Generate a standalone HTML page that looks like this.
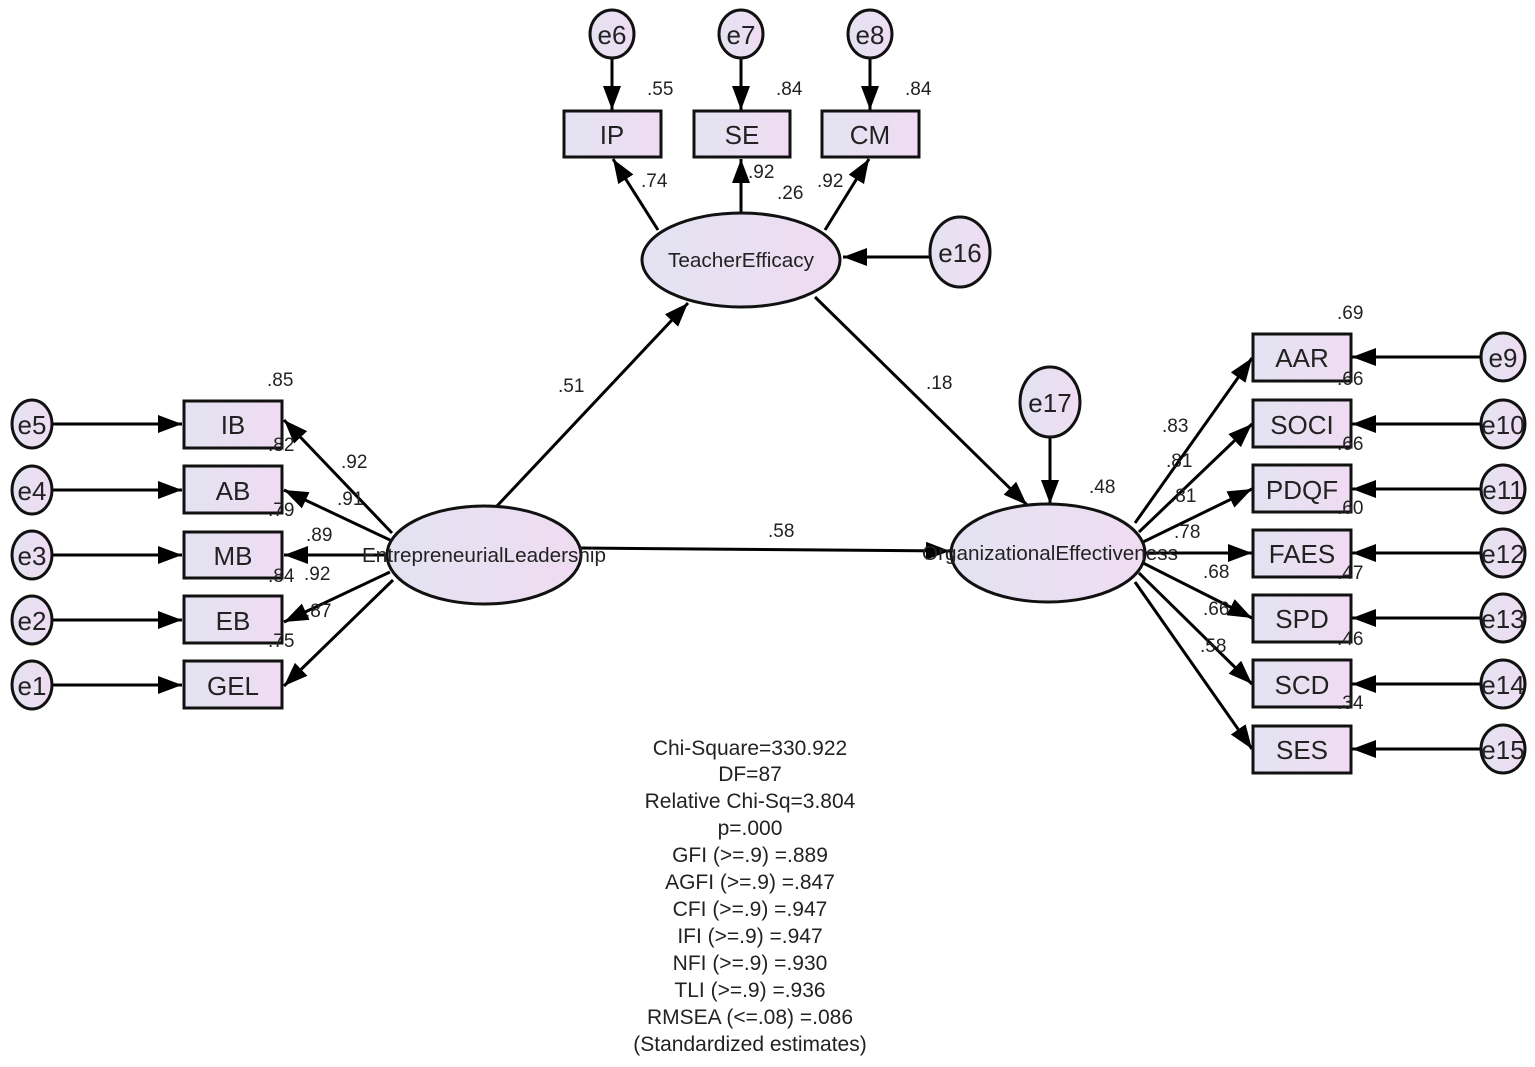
<!DOCTYPE html>
<html><head><meta charset="utf-8"><style>
html,body{margin:0;padding:0;background:#fff;}
svg{display:block;}
text{font-family:"Liberation Sans",Arial,sans-serif;fill:#222;}
.lbl{font-size:26px;text-anchor:middle;}
.num{font-size:19px;}
.st{font-size:21px;text-anchor:middle;}
</style></head><body>
<svg width="1535" height="1067" viewBox="0 0 1535 1067" xmlns="http://www.w3.org/2000/svg">
<defs>
<linearGradient id="g" x1="0" x2="1" y1="0" y2="0"><stop offset="0" stop-color="#e3e3f1"/><stop offset="1" stop-color="#f0dcf2"/></linearGradient>
<marker id="a" markerUnits="userSpaceOnUse" markerWidth="26" markerHeight="20" refX="24" refY="9" orient="auto"><path d="M0,0 L24,9 L0,18 Z" fill="#000"/></marker>
</defs>
<g stroke="#000" stroke-width="3" fill="none" marker-end="url(#a)">
<!-- left errors -->
<line x1="52" y1="424" x2="182" y2="424"/>
<line x1="52" y1="490" x2="182" y2="490"/>
<line x1="52" y1="555" x2="182" y2="555"/>
<line x1="52" y1="620" x2="182" y2="620"/>
<line x1="52" y1="685" x2="182" y2="685"/>
<!-- EL loadings -->
<line x1="392" y1="533" x2="284" y2="420"/>
<line x1="390" y1="540" x2="284" y2="490"/>
<line x1="388" y1="555" x2="284" y2="555"/>
<line x1="390" y1="572" x2="284" y2="622"/>
<line x1="393" y1="580" x2="284" y2="686"/>
<!-- top -->
<line x1="612" y1="58" x2="612" y2="110"/>
<line x1="741" y1="58" x2="741" y2="110"/>
<line x1="870" y1="58" x2="870" y2="110"/>
<line x1="658" y1="230" x2="613" y2="159"/>
<line x1="741" y1="212" x2="741" y2="159"/>
<line x1="825" y1="230" x2="869" y2="159"/>
<line x1="930" y1="257" x2="843" y2="257"/>
<!-- structural -->
<line x1="497" y1="506" x2="688" y2="303"/>
<line x1="815" y1="297" x2="1027" y2="505"/>
<line x1="580" y1="548" x2="950" y2="551"/>
<line x1="1050" y1="437" x2="1050" y2="504"/>
<!-- OE loadings -->
<line x1="1135" y1="523" x2="1252" y2="358"/>
<line x1="1139" y1="532" x2="1252" y2="424"/>
<line x1="1143" y1="542" x2="1252" y2="489"/>
<line x1="1145" y1="553" x2="1252" y2="553"/>
<line x1="1143" y1="563" x2="1252" y2="618"/>
<line x1="1139" y1="573" x2="1252" y2="684"/>
<line x1="1135" y1="582" x2="1252" y2="749"/>
<!-- right errors -->
<line x1="1482" y1="357" x2="1352" y2="357"/>
<line x1="1482" y1="424" x2="1352" y2="424"/>
<line x1="1482" y1="489" x2="1352" y2="489"/>
<line x1="1482" y1="553" x2="1352" y2="553"/>
<line x1="1482" y1="618" x2="1352" y2="618"/>
<line x1="1482" y1="684" x2="1352" y2="684"/>
<line x1="1482" y1="749" x2="1352" y2="749"/>
</g>
<g stroke="#111" stroke-width="3" fill="url(#g)">
<rect x="184" y="401" width="98" height="47"/>
<rect x="184" y="466" width="98" height="47"/>
<rect x="184" y="532" width="98" height="46"/>
<rect x="184" y="596" width="98" height="47"/>
<rect x="184" y="661" width="98" height="47"/>
<rect x="564" y="111" width="97" height="46"/>
<rect x="694" y="111" width="96" height="46"/>
<rect x="822" y="111" width="97" height="46"/>
<rect x="1253" y="334" width="98" height="47"/>
<rect x="1253" y="400" width="98" height="47"/>
<rect x="1253" y="465" width="98" height="47"/>
<rect x="1253" y="530" width="98" height="47"/>
<rect x="1253" y="595" width="98" height="47"/>
<rect x="1253" y="660" width="98" height="47"/>
<rect x="1253" y="726" width="98" height="47"/>
<ellipse cx="484" cy="555" rx="97" ry="49"/>
<ellipse cx="741" cy="260" rx="99" ry="47"/>
<ellipse cx="1048" cy="553" rx="97" ry="49"/>
<ellipse cx="32" cy="424" rx="20" ry="24"/>
<ellipse cx="32" cy="490" rx="20" ry="24"/>
<ellipse cx="32" cy="555" rx="20" ry="24"/>
<ellipse cx="32" cy="620" rx="20" ry="24"/>
<ellipse cx="32" cy="685" rx="20" ry="24"/>
<ellipse cx="612" cy="34" rx="22" ry="24"/>
<ellipse cx="741" cy="34" rx="22" ry="24"/>
<ellipse cx="870" cy="34" rx="22" ry="24"/>
<ellipse cx="960" cy="252" rx="30" ry="35"/>
<ellipse cx="1050" cy="402" rx="30" ry="35"/>
<ellipse cx="1503" cy="357" rx="22" ry="24"/>
<ellipse cx="1503" cy="424" rx="22" ry="24"/>
<ellipse cx="1503" cy="489" rx="22" ry="24"/>
<ellipse cx="1503" cy="553" rx="22" ry="24"/>
<ellipse cx="1503" cy="618" rx="22" ry="24"/>
<ellipse cx="1503" cy="684" rx="22" ry="24"/>
<ellipse cx="1503" cy="749" rx="22" ry="24"/>
</g>
<g class="lbl">
<text x="233" y="434">IB</text><text x="233" y="500">AB</text><text x="233" y="565">MB</text><text x="233" y="630">EB</text><text x="233" y="695">GEL</text>
<text x="612" y="144">IP</text><text x="742" y="144">SE</text><text x="870" y="144">CM</text>
<text x="1302" y="367">AAR</text><text x="1302" y="434">SOCI</text><text x="1302" y="499">PDQF</text><text x="1302" y="563">FAES</text><text x="1302" y="628">SPD</text><text x="1302" y="694">SCD</text><text x="1302" y="759">SES</text>
<text x="32" y="434">e5</text><text x="32" y="500">e4</text><text x="32" y="565">e3</text><text x="32" y="630">e2</text><text x="32" y="695">e1</text>
<text x="612" y="44">e6</text><text x="741" y="44">e7</text><text x="870" y="44">e8</text>
<text x="960" y="262">e16</text><text x="1050" y="412">e17</text>
<text x="1503" y="367">e9</text><text x="1503" y="434">e10</text><text x="1503" y="499">e11</text><text x="1503" y="563">e12</text><text x="1503" y="628">e13</text><text x="1503" y="694">e14</text><text x="1503" y="759">e15</text>
</g>
<g style="font-size:20px;text-anchor:middle">
<text x="484" y="562" textLength="244" lengthAdjust="spacingAndGlyphs">EntrepreneurialLeadership</text>
<text x="741" y="267" textLength="146" lengthAdjust="spacingAndGlyphs">TeacherEfficacy</text>
<text x="1050" y="560" textLength="256" lengthAdjust="spacingAndGlyphs">OrganizationalEffectiveness</text>
</g>
<g class="num">
<text x="267" y="386">.85</text><text x="268" y="451">.82</text><text x="268" y="516">.79</text><text x="268" y="582">.84</text><text x="268" y="647">.75</text>
<text x="341" y="468">.92</text><text x="337" y="505">.91</text><text x="306" y="541">.89</text><text x="304" y="580">.92</text><text x="305" y="617">.87</text>
<text x="647" y="95">.55</text><text x="776" y="95">.84</text><text x="905" y="95">.84</text>
<text x="641" y="187">.74</text><text x="748" y="178">.92</text><text x="777" y="199">.26</text><text x="817" y="187">.92</text>
<text x="558" y="392">.51</text><text x="926" y="389">.18</text><text x="768" y="537">.58</text><text x="1089" y="493">.48</text>
<text x="1337" y="319">.69</text><text x="1337" y="385">.66</text><text x="1337" y="450">.66</text><text x="1337" y="514">.60</text><text x="1337" y="579">.47</text><text x="1337" y="645">.46</text><text x="1337" y="709">.34</text>
<text x="1162" y="432">.83</text><text x="1166" y="467">.81</text><text x="1170" y="502">.81</text><text x="1174" y="538">.78</text><text x="1203" y="578">.68</text><text x="1203" y="615">.66</text><text x="1200" y="652">.58</text>
</g>
<g class="st">
<text x="750" y="755">Chi-Square=330.922</text>
<text x="750" y="781">DF=87</text>
<text x="750" y="808">Relative Chi-Sq=3.804</text>
<text x="750" y="835">p=.000</text>
<text x="750" y="862">GFI (&gt;=.9) =.889</text>
<text x="750" y="889">AGFI (&gt;=.9) =.847</text>
<text x="750" y="916">CFI (&gt;=.9) =.947</text>
<text x="750" y="943">IFI (&gt;=.9) =.947</text>
<text x="750" y="970">NFI (&gt;=.9) =.930</text>
<text x="750" y="997">TLI (&gt;=.9) =.936</text>
<text x="750" y="1024">RMSEA (&lt;=.08) =.086</text>
<text x="750" y="1051">(Standardized estimates)</text>
</g>
</svg>
</body></html>
